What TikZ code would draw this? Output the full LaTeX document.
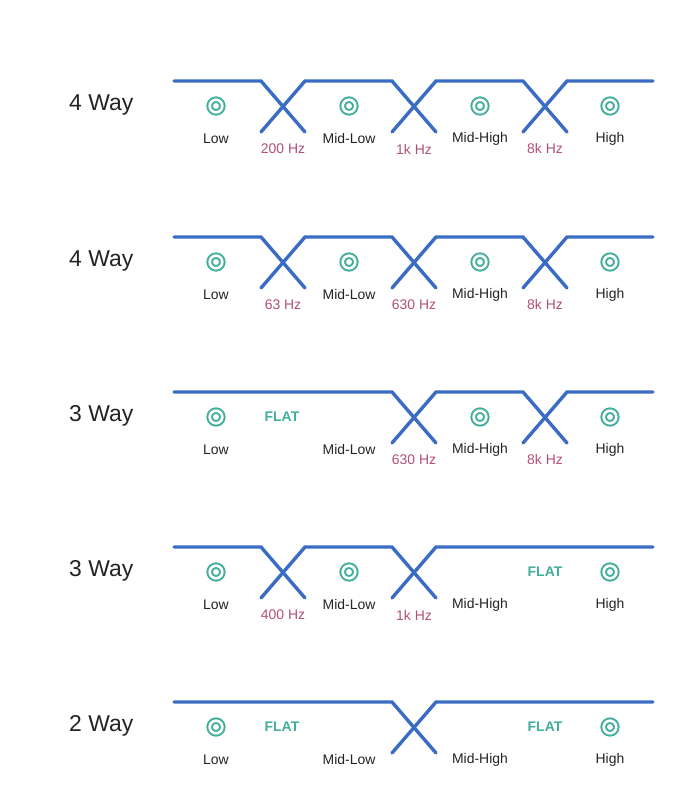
\documentclass[tikz,border=0pt]{standalone}
\usepackage{fontspec}
\setmainfont{Liberation Sans}
\definecolor{lineblue}{RGB}{58,108,196}
\definecolor{spk}{RGB}{66,174,156}
\definecolor{freqc}{RGB}{178,80,120}
\definecolor{txt}{RGB}{35,35,35}
\begin{document}
\begin{tikzpicture}[x=1bp,y=-1bp,
  curve/.style={draw=lineblue,line width=3.4bp,line cap=round,line join=miter},
  speaker/.style={circle,draw=spk,double=white,line width=2.0bp,double distance=2.6bp,fill=white,minimum size=12.6bp,inner sep=0pt},
  lbl/.style={text=txt,font=\fontsize{14}{16}\selectfont,inner sep=0pt},
  freq/.style={text=freqc,font=\fontsize{14}{16}\selectfont,inner sep=0pt},
  flat/.style={text=spk,font=\bfseries\fontsize{14}{16}\selectfont,inner sep=0pt},
  way/.style={text=txt,font=\fontsize{23}{26}\selectfont,inner sep=0pt,anchor=west}]
\useasboundingbox[fill=white] (0,0) rectangle (693,801);

% ---------- Row 1: 4 Way ----------
\begin{scope}[shift={(0,81)}]
\node[way] (wayA) at (69,24) {4 Way};
\draw[curve] (174,0) -- (261,0) -- (305,51);
\draw[curve] (261,51) -- (305,0) -- (392,0) -- (436,51);
\draw[curve] (392,51) -- (436,0) -- (523,0) -- (567,51);
\draw[curve] (523,51) -- (567,0) -- (653,0);
\node[speaker] (spA1) at (216,25) {};
\node[speaker] (spA2) at (349,25) {};
\node[speaker] (spA3) at (480,25) {};
\node[speaker] (spA4) at (610,25) {};
\node[lbl] (lA1) at (216,58) {Low};
\node[lbl] (lA2) at (349,58) {Mid-Low};
\node[lbl] (lA3) at (480,58) {Mid-High};
\node[lbl] (lA4) at (610,58) {High};
\node[freq] (fA1) at (283,68) {200 Hz};
\node[freq] (fA2) at (414,68) {1k Hz};
\node[freq] (fA3) at (545,68) {8k Hz};
\end{scope}

% ---------- Row 2: 4 Way ----------
\begin{scope}[shift={(0,237)}]
\node[way] (wayB) at (69,24) {4 Way};
\draw[curve] (174,0) -- (261,0) -- (305,51);
\draw[curve] (261,51) -- (305,0) -- (392,0) -- (436,51);
\draw[curve] (392,51) -- (436,0) -- (523,0) -- (567,51);
\draw[curve] (523,51) -- (567,0) -- (653,0);
\node[speaker] (spB1) at (216,25) {};
\node[speaker] (spB2) at (349,25) {};
\node[speaker] (spB3) at (480,25) {};
\node[speaker] (spB4) at (610,25) {};
\node[lbl] (lB1) at (216,58) {Low};
\node[lbl] (lB2) at (349,58) {Mid-Low};
\node[lbl] (lB3) at (480,58) {Mid-High};
\node[lbl] (lB4) at (610,58) {High};
\node[freq] (fB1) at (283,68) {63 Hz};
\node[freq] (fB2) at (414,68) {630 Hz};
\node[freq] (fB3) at (545,68) {8k Hz};
\end{scope}

% ---------- Row 3: 3 Way ----------
\begin{scope}[shift={(0,392)}]
\node[way] (wayC) at (69,24) {3 Way};
\draw[curve] (174,0) -- (392,0) -- (436,51);
\draw[curve] (392,51) -- (436,0) -- (523,0) -- (567,51);
\draw[curve] (523,51) -- (567,0) -- (653,0);
\node[speaker] (spC1) at (216,25) {};
\node[flat] (flC1) at (282,25) {FLAT};
\node[speaker] (spC3) at (480,25) {};
\node[speaker] (spC4) at (610,25) {};
\node[lbl] (lC1) at (216,58) {Low};
\node[lbl] (lC2) at (349,58) {Mid-Low};
\node[lbl] (lC3) at (480,58) {Mid-High};
\node[lbl] (lC4) at (610,58) {High};
\node[freq] (fC2) at (414,68) {630 Hz};
\node[freq] (fC3) at (545,68) {8k Hz};
\end{scope}

% ---------- Row 4: 3 Way ----------
\begin{scope}[shift={(0,547)}]
\node[way] (wayD) at (69,24) {3 Way};
\draw[curve] (174,0) -- (261,0) -- (305,51);
\draw[curve] (261,51) -- (305,0) -- (392,0) -- (436,51);
\draw[curve] (392,51) -- (436,0) -- (653,0);
\node[speaker] (spD1) at (216,25) {};
\node[speaker] (spD2) at (349,25) {};
\node[flat] (flD2) at (545,25) {FLAT};
\node[speaker] (spD4) at (610,25) {};
\node[lbl] (lD1) at (216,58) {Low};
\node[lbl] (lD2) at (349,58) {Mid-Low};
\node[lbl] (lD3) at (480,58) {Mid-High};
\node[lbl] (lD4) at (610,58) {High};
\node[freq] (fD1) at (283,68) {400 Hz};
\node[freq] (fD2) at (414,68) {1k Hz};
\end{scope}

% ---------- Row 5: 2 Way ----------
\begin{scope}[shift={(0,702)}]
\node[way] (wayE) at (69,24) {2 Way};
\draw[curve] (174,0) -- (392,0) -- (436,51);
\draw[curve] (392,51) -- (436,0) -- (653,0);
\node[speaker] (spE1) at (216,25) {};
\node[flat] (flE1) at (282,25) {FLAT};
\node[flat] (flE2) at (545,25) {FLAT};
\node[speaker] (spE4) at (610,25) {};
\node[lbl] (lE1) at (216,58) {Low};
\node[lbl] (lE2) at (349,58) {Mid-Low};
\node[lbl] (lE3) at (480,58) {Mid-High};
\node[lbl] (lE4) at (610,58) {High};
\end{scope}
\end{tikzpicture}
\end{document}
